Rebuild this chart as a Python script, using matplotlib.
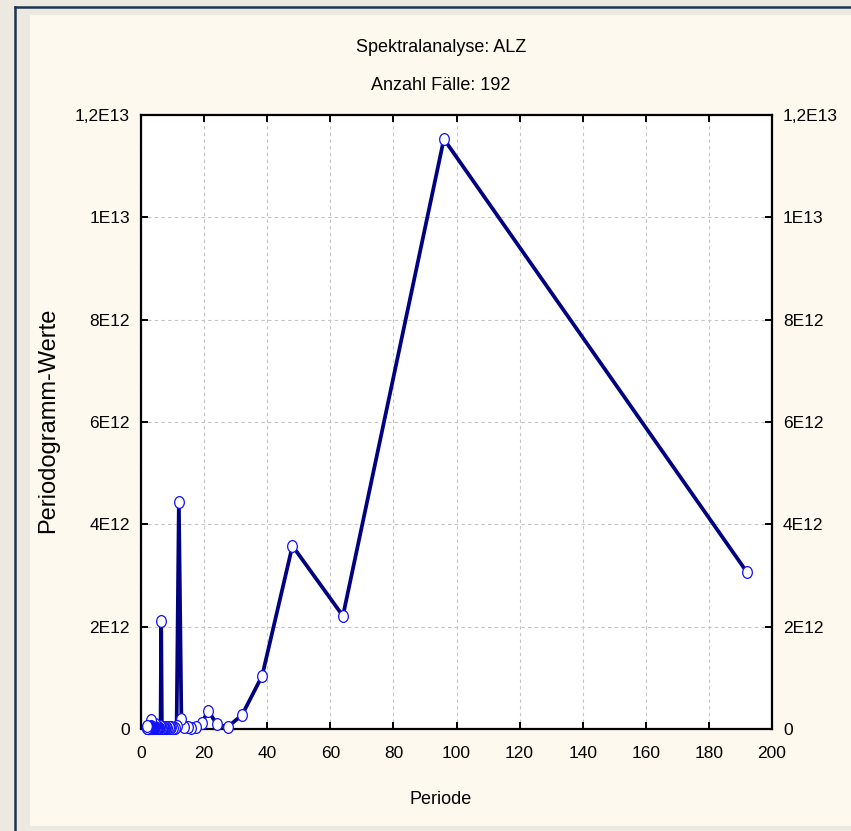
import matplotlib
matplotlib.use("Agg")
import matplotlib.pyplot as plt
from matplotlib.patches import Rectangle
from matplotlib.lines import Line2D
from matplotlib.path import Path
from matplotlib.ticker import FixedLocator, FixedFormatter

# Periodogram of ALZ (192 cases): period = 192 / k, value in units of 1E12
periode = [192, 96, 64, 48, 38.4, 32, 27.43, 24, 21.33, 19.2,
           17.45, 16, 14.77, 13.71, 12.8, 12, 11.29, 10.67, 10.11, 9.6,
           9.14, 8.73, 8.35, 8, 7.68, 7.38, 7.11, 6.86, 6.62, 6.4,
           6.19, 6, 5.82, 5.65, 5.49, 5.33, 5.19, 5.05, 4.92, 4.8,
           4.68, 4.57, 4.47, 4.36, 4.27, 4.17, 4.09, 4, 3.92, 3.84,
           3.76, 3.69, 3.62, 3.56, 3.49, 3.43, 3.37, 3.31, 3.25, 3.2,
           3.15, 3.1, 3.05, 3, 2.95, 2.91, 2.87, 2.82, 2.78, 2.74,
           2.7, 2.67, 2.63, 2.59, 2.56, 2.53, 2.49, 2.46, 2.43, 2.4,
           2.37, 2.34, 2.31, 2.29, 2.26, 2.23, 2.21, 2.18, 2.16, 2.13,
           2.11, 2.09, 2.06, 2.04, 2.02, 2]
werte_e12 = [3.07, 11.53, 2.21, 3.58, 1.04, 0.27, 0.04, 0.09, 0.36, 0.11,
             0.03, 0.02, 0.03, 0.04, 0.19, 4.43, 0.05, 0.02, 0.01, 0.03,
             0.02, 0.04, 0.01, 0.03, 0.02, 0.01, 0.02, 0.03, 0.02, 2.12,
             0.03, 0.05, 0.02, 0.01, 0.03, 0.02, 0.04, 0.01, 0.02, 0.03,
             0.02, 0.06, 0.1, 0.03, 0.02, 0.01, 0.04, 0.02, 0.03, 0.01,
             0.02, 0.03, 0.05, 0.02, 0.01, 0.02, 0.03, 0.02, 0.04, 0.17,
             0.06, 0.02, 0.01, 0.03, 0.02, 0.01, 0.02, 0.03, 0.01, 0.02,
             0.04, 0.02, 0.01, 0.03, 0.02, 0.01, 0.02, 0.01, 0.03, 0.02,
             0.01, 0.02, 0.01, 0.02, 0.03, 0.01, 0.02, 0.01, 0.02, 0.01,
             0.02, 0.01, 0.03, 0.01, 0.02, 0.05]
werte = [v * 1e12 for v in werte_e12]

x_ticks = [0, 20, 40, 60, 80, 100, 120, 140, 160, 180, 200]
y_ticks = [0, 2e12, 4e12, 6e12, 8e12, 1e13, 1.2e13]
y_tick_labels = ["0", "2E12", "4E12", "6E12", "8E12", "1E13", "1,2E13"]

titel = "Spektralanalyse: ALZ"
untertitel = "Anzahl Fälle: 192"
x_label = "Periode"
y_label = "Periodogramm-Werte"

sans = ["Liberation Sans", "DejaVu Sans"]
W, H = 851, 831

fig = plt.figure(figsize=(W / 100, H / 100), dpi=100, facecolor="#ECE9E0")

# window frame and cream panel behind the axes
fig.patches.append(Rectangle((30 / W, 5 / H), 1, 1 - 20 / H, transform=fig.transFigure,
                             facecolor="#FEF9EE", edgecolor="none", zorder=-2))
fig.lines.append(Line2D([15 / W, 15 / W], [0, 1 - 7 / H], transform=fig.transFigure,
                        color="#1E3350", linewidth=1.8, zorder=-1))
fig.lines.append(Line2D([15 / W, 1], [1 - 7 / H, 1 - 7 / H], transform=fig.transFigure,
                        color="#1E3350", linewidth=1.8, zorder=-1))

ax = fig.add_axes([141 / W, 102 / H, 631 / W, 614 / H])
ax.set_facecolor("white")

# slightly tall oval markers
kreis = Path.unit_circle()
oval = Path(kreis.vertices * [0.82, 1.0], kreis.codes)

ax.plot(periode, werte, color="#000080", linewidth=2.7, zorder=3,
        marker=oval, markersize=8.5, markerfacecolor="white",
        markeredgecolor="#1010FF", markeredgewidth=0.9, clip_on=False)

ax.set_xlim(0, 200)
ax.set_ylim(0, 1.2e13)
ax.xaxis.set_major_locator(FixedLocator(x_ticks))
ax.yaxis.set_major_locator(FixedLocator(y_ticks))
ax.yaxis.set_major_formatter(FixedFormatter(y_tick_labels))

ax.grid(True, color="#C4C4C4", linestyle=(0, (3, 3)), linewidth=0.8)
ax.set_axisbelow(True)

for side in ax.spines.values():
    side.set_linewidth(1.6)
    side.set_color("black")

ax.tick_params(direction="in", length=5, width=1.4, top=True, right=True,
               labelright=True, labelsize=12.5, pad=8)
ax.tick_params(axis="x", pad=12)
for tick in ax.xaxis.get_major_ticks() + ax.yaxis.get_major_ticks():
    tick.label1.set_family(sans)
    tick.label2.set_family(sans)

ax.set_xlabel(x_label, family=sans, fontsize=13)
ax.xaxis.set_label_coords((441 - 141) / 631, (729 - 800) / 614)
ax.xaxis.label.set_va("center")
ax.set_ylabel(y_label, family=sans, fontsize=17)
ax.yaxis.set_label_coords((48 - 141) / 631, (729 - 420) / 614)
ax.yaxis.label.set_va("center")

fig.text(441 / W, 1 - 47 / H, titel, family=sans, fontsize=13, ha="center", va="center")
fig.text(441 / W, 1 - 85 / H, untertitel, family=sans, fontsize=13, ha="center", va="center")

fig.savefig("out.png", dpi=100, facecolor=fig.get_facecolor())
